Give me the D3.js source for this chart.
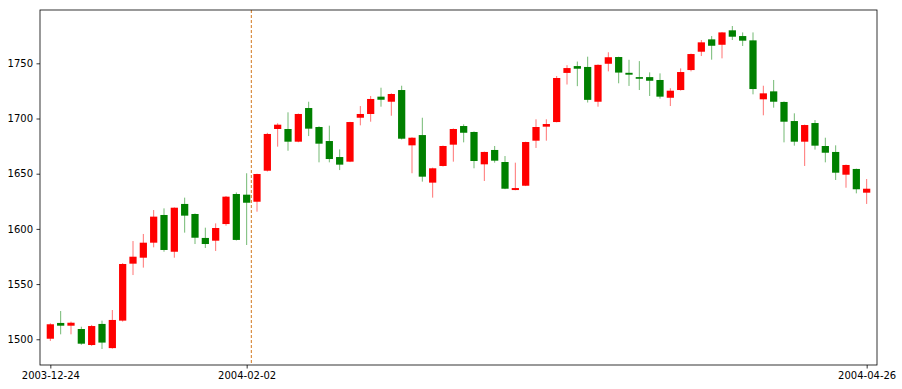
<!DOCTYPE html>
<html>
<head>
<meta charset="utf-8">
<script src="https://cdn.jsdelivr.net/npm/d3@7"></script>
<style>
  body { margin: 0; background: #fff; }
  text { font-family: "DejaVu Sans", sans-serif; font-size: 10px; fill: #000; }
</style>
</head>
<body>
<svg id="chart" width="902" height="389"></svg>
<script>
// OHLC (index 0 = 2003-12-24)
const opens = [1500.5, 1514.8, 1512.3, 1509.3, 1494.8, 1513.9, 1492, 1516.9, 1568.5, 1573.9,
  1587.5, 1612.6, 1579.3, 1622.6, 1613.5, 1591.8, 1589.3, 1604.4, 1631.6, 1631,
  1624.6, 1652.7, 1690.5, 1690.5, 1679, 1709.5, 1692.3, 1679.6, 1665.1, 1660.9,
  1700.7, 1704.1, 1719.8, 1715.2, 1725.8, 1675.7, 1685, 1641.9, 1657, 1676.3,
  1693.2, 1687.8, 1658.5, 1671.5, 1660.6, 1635.2, 1639.1, 1679.9, 1692.6, 1696.8,
  1741.3, 1747.5, 1746.7, 1715.2, 1749.6, 1755.7, 1741.4, 1737.5, 1737.5, 1734.9,
  1718.8, 1725.8, 1743.9, 1760.5, 1771.7, 1766.8, 1779.9, 1774.7, 1770.8, 1717.4,
  1724.6, 1715, 1697.7, 1679, 1695.9, 1675.1, 1669.7, 1649.1, 1654.3, 1632.8];
const highs = [1514.5, 1525.6, 1516, 1511.4, 1513, 1516.9, 1526.5, 1569, 1589, 1595.4,
  1617.1, 1618.6, 1619.5, 1628.3, 1614, 1601.1, 1605, 1629.8, 1633, 1650.4,
  1650, 1687, 1695.7, 1705.6, 1704.5, 1715.2, 1693, 1693.5, 1672, 1697,
  1711.3, 1720.4, 1727.9, 1722.8, 1729.7, 1683, 1700.7, 1655.5, 1675.5, 1691,
  1694.7, 1688.3, 1670, 1675.1, 1666, 1660, 1679, 1699.3, 1699.3, 1738.5,
  1748.3, 1751.6, 1756, 1749, 1760, 1756, 1753.2, 1752, 1741.8, 1740.9,
  1727.4, 1745.4, 1758.8, 1771.1, 1774.7, 1778.3, 1783.8, 1778, 1778, 1729.7,
  1734.9, 1715.5, 1704.7, 1694.5, 1698.6, 1682.6, 1675.7, 1658.3, 1654.6, 1645.2];
const lows = [1498.5, 1504.5, 1504.5, 1495, 1494, 1491.2, 1491.5, 1516, 1558.2, 1564.9,
  1583.3, 1579.3, 1573.9, 1596.6, 1586.3, 1582.7, 1580, 1602.9, 1589.5, 1585.4,
  1615.6, 1652, 1674.5, 1670.8, 1678.5, 1684.1, 1660.3, 1660.3, 1653.3, 1660.5,
  1693.8, 1697.1, 1710.7, 1702.5, 1681, 1650.4, 1642.8, 1628.3, 1656.5, 1660.9,
  1678.4, 1654.9, 1643.4, 1660, 1636, 1635, 1638.8, 1673.3, 1679.9, 1696.5,
  1730.8, 1729.3, 1714.5, 1710.7, 1742.7, 1731.9, 1729.5, 1725.8, 1720.4, 1718,
  1711.3, 1725.3, 1742.7, 1756.6, 1753.3, 1754.5, 1771.1, 1765.7, 1721.9, 1702.9,
  1709.8, 1678.4, 1675.4, 1657, 1671.8, 1660.3, 1644.3, 1637.3, 1632.2, 1622.6];
const closes = [1513.6, 1512.3, 1515, 1496, 1512, 1497, 1517.5, 1568.2, 1574.8, 1587.5,
  1611.1, 1580.9, 1619.2, 1612, 1592, 1586.3, 1600.8, 1629.2, 1590, 1623.7,
  1649.7, 1686, 1694.4, 1679, 1704.1, 1690.8, 1677.2, 1663.3, 1658.2, 1696.8,
  1704.1, 1717.7, 1717, 1722.2, 1681.7, 1682.6, 1647.3, 1654.9, 1675.1, 1690.5,
  1687.1, 1661.5, 1669.7, 1661.8, 1636.4, 1637, 1678.7, 1692.3, 1695, 1736.7,
  1745.7, 1745.1, 1716.9, 1748.6, 1755.5, 1741.6, 1739.7, 1736, 1734.2, 1719.8,
  1725.2, 1742.1, 1758.4, 1769, 1765.9, 1778, 1774.1, 1770.5, 1726.7, 1722.8,
  1715.2, 1697.1, 1679, 1694.1, 1675.4, 1669, 1650.9, 1657.9, 1635.9, 1636.4];

const xTickIdx = [0, 19, 79];
const xTickLabels = ["2003-12-24", "2004-02-02", "2004-04-26"];
const yTicks = [1500, 1550, 1600, 1650, 1700, 1750];
const markerIdx = 19.45; // dashed vertical marker

const margin = { left: 40, right: 25, top: 10, bottom: 24 };
const W = 902, H = 389;

const svg = d3.select("#chart");

const x = d3.scaleLinear().domain([-1, 80]).range([margin.left, W - margin.right]);
const y = d3.scaleLinear().domain([1476.7, 1798.3]).range([H - margin.bottom, margin.top]);

const bodyW = (x(1) - x(0)) * 0.7;
const candles = opens.map((o, i) => ({ i, o, h: highs[i], l: lows[i], c: closes[i] }));
const col = d => d.c >= d.o ? "#ff0000" : "#008000";

// wicks
svg.append("g")
  .selectAll("line")
  .data(candles)
  .enter()
  .append("line")
  .attr("x1", d => x(d.i))
  .attr("x2", d => x(d.i))
  .attr("y1", d => y(d.h))
  .attr("y2", d => y(d.l))
  .attr("stroke", col)
  .attr("stroke-opacity", 0.55)
  .attr("stroke-width", 1);

// bodies
svg.append("g")
  .selectAll("rect")
  .data(candles)
  .enter()
  .append("rect")
  .attr("x", d => x(d.i) - bodyW / 2)
  .attr("width", bodyW)
  .attr("y", d => y(Math.max(d.o, d.c)))
  .attr("height", d => Math.max(1.5, Math.abs(y(d.o) - y(d.c))))
  .attr("fill", col);

// dashed marker line
svg.append("line")
  .attr("x1", x(markerIdx)).attr("x2", x(markerIdx))
  .attr("y1", margin.top).attr("y2", H - margin.bottom)
  .attr("stroke", "#d2781e")
  .attr("stroke-width", 1)
  .attr("stroke-dasharray", "3,2");

// axes
const xAxis = d3.axisBottom(x)
  .tickValues(xTickIdx)
  .tickFormat((d, k) => xTickLabels[k])
  .tickSize(3.5)
  .tickPadding(3.5);
const yAxis = d3.axisLeft(y)
  .tickValues(yTicks)
  .tickFormat(d3.format("d"))
  .tickSize(3.5)
  .tickPadding(3.5);

const gx = svg.append("g")
  .attr("transform", `translate(0,${H - margin.bottom})`)
  .call(xAxis);
const gy = svg.append("g")
  .attr("transform", `translate(${margin.left},0)`)
  .call(yAxis);
[gx, gy].forEach(g => {
  g.select(".domain").remove();
  g.selectAll("text").style("font-size", "10px").style("font-family", "DejaVu Sans");
  g.selectAll("line").attr("stroke", "#000").attr("stroke-width", 0.8);
});

// frame
svg.append("rect")
  .attr("x", margin.left).attr("y", margin.top)
  .attr("width", W - margin.left - margin.right)
  .attr("height", H - margin.top - margin.bottom)
  .attr("fill", "none")
  .attr("stroke", "#000")
  .attr("stroke-width", 0.8);
</script>
</body>
</html>
